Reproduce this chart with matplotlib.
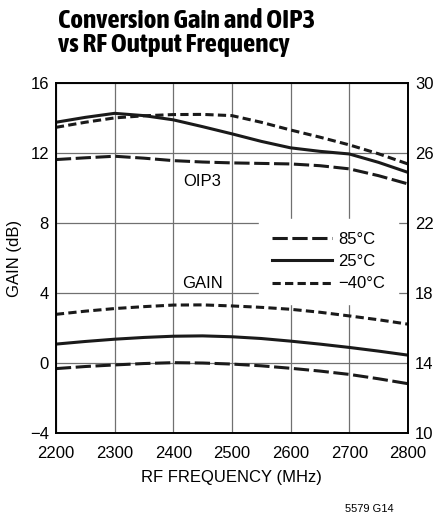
import matplotlib
matplotlib.use("Agg")
import matplotlib.pyplot as plt
from matplotlib import font_manager

# look for a bold narrow face, the reference title is a condensed Helvetica bold
def weight_of(f):
    w = f.weight
    if isinstance(w, str):
        w = font_manager.weight_dict.get(w, 400)
    return w

ttf = font_manager.fontManager.ttflist
names = sorted(set(f.name for f in ttf))
bold_narrow = sorted(set(f.name for f in ttf
                         if ('Narrow' in f.name or 'Condensed' in f.name)
                         and weight_of(f) >= 600 and f.style == 'normal'))
base = 'Liberation Sans' if 'Liberation Sans' in names else 'DejaVu Sans'
title_font = bold_narrow[0] if bold_narrow else base
plt.rcParams['font.family'] = [base, 'DejaVu Sans']

# values
freq = [2200, 2250, 2300, 2350, 2400, 2450, 2500, 2550, 2600, 2650, 2700, 2750, 2800]

gain_85 = [-0.32, -0.20, -0.11, -0.03, 0.02, 0.00, -0.06, -0.16, -0.30, -0.46, -0.65, -0.90, -1.18]
gain_25 = [1.08, 1.23, 1.36, 1.46, 1.53, 1.55, 1.50, 1.40, 1.25, 1.08, 0.89, 0.68, 0.45]
gain_m40 = [2.78, 2.96, 3.11, 3.22, 3.31, 3.32, 3.26, 3.18, 3.07, 2.90, 2.69, 2.47, 2.22]

oip3_85 = [25.62, 25.72, 25.81, 25.70, 25.56, 25.48, 25.43, 25.40, 25.37, 25.27, 25.09, 24.70, 24.23]
oip3_25 = [27.75, 28.03, 28.26, 28.13, 27.89, 27.50, 27.09, 26.66, 26.29, 26.09, 25.94, 25.46, 24.89]
oip3_m40 = [27.46, 27.75, 28.00, 28.12, 28.19, 28.20, 28.13, 27.75, 27.31, 26.90, 26.46, 25.95, 25.37]

xticks = [2200, 2300, 2400, 2500, 2600, 2700, 2800]
yticks_l = [-4, 0, 4, 8, 12, 16]
yticks_r = [10, 14, 18, 22, 26, 30]

long_dash = (0, (5.0, 1.5))
short_dash = (0, (2.7, 1.4))
lw = 2.2
ink = '#1a1a1a'

fig = plt.figure(figsize=(4.4, 5.18), dpi=100)
ax = fig.add_axes([0.127, 0.164, 0.800, 0.676])
ax2 = ax.twinx()

ax.set_xlim(2200, 2800)
ax.set_ylim(-4, 16)
ax2.set_ylim(10, 30)
ax.set_xticks(xticks)
ax.set_yticks(yticks_l)
ax2.set_yticks(yticks_r)
ax.set_yticklabels(['\u22124' if v < 0 else str(v) for v in yticks_l])
ax.grid(True, color='#707070', linewidth=0.9)
ax.tick_params(axis='x', length=0, labelsize=12, pad=9)
ax.tick_params(axis='y', length=0, labelsize=12, pad=5)
ax2.tick_params(length=0, labelsize=12, pad=5)
for a in (ax, ax2):
    for s in a.spines.values():
        s.set_linewidth(1.2)

ax.set_xlabel('RF FREQUENCY (MHz)', fontsize=12, labelpad=7)
ax.set_ylabel('GAIN (dB)', fontsize=12, labelpad=6)

h85, = ax.plot(freq, gain_85, color=ink, lw=lw, ls=long_dash, label='85\u00b0C')
h25, = ax.plot(freq, gain_25, color=ink, lw=lw, ls='-', label='25\u00b0C')
hm40, = ax.plot(freq, gain_m40, color=ink, lw=lw, ls=short_dash, label='\u221240\u00b0C')

ax2.plot(freq, oip3_85, color=ink, lw=lw, ls=long_dash)
ax2.plot(freq, oip3_25, color=ink, lw=lw, ls='-')
ax2.plot(freq, oip3_m40, color=ink, lw=lw, ls=short_dash)

ax.text(2450, 10.35, 'OIP3', fontsize=12, ha='center', va='center')
ax.text(2450, 4.55, 'GAIN', fontsize=12, ha='center', va='center')

leg = ax2.legend(handles=[h85, h25, hm40], loc='upper right',
                 bbox_to_anchor=(0.972, 0.611), fontsize=12, frameon=True,
                 fancybox=False, handlelength=3.6, handletextpad=0.4,
                 labelspacing=0.44, borderpad=0.76, borderaxespad=0)
leg.get_frame().set_facecolor('white')
leg.get_frame().set_edgecolor('white')
leg.get_frame().set_alpha(1)

title = 'Conversion Gain and OIP3\nvs RF Output Frequency'
if bold_narrow:
    fig.text(0.132, 0.890, title, family=[title_font, 'DejaVu Sans'], fontsize=19.5,
             fontweight='bold', ha='left', va='bottom', linespacing=0.97)
else:
    fig.text(0.132, 0.890, title, fontsize=16, fontweight='bold',
             ha='left', va='bottom', linespacing=1.05)
fig.text(0.84, 0.008, '5579 G14', fontsize=8, ha='center', va='bottom')

fig.savefig('out.png', dpi=100)
